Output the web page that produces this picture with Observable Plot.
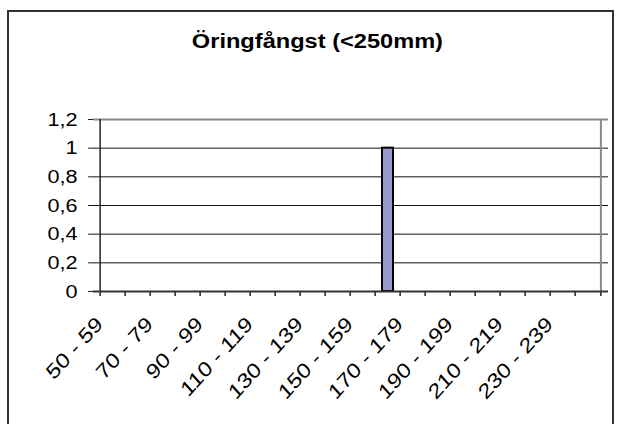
<!DOCTYPE html>
<html>
<head>
<meta charset="utf-8">
<script src="https://cdn.jsdelivr.net/npm/d3@7"></script>
<script src="https://cdn.jsdelivr.net/npm/@observablehq/plot@0.6"></script>
<style>
  html, body { margin: 0; padding: 0; background: #fff; width: 620px; height: 424px; overflow: hidden; }
  #frame { position: absolute; left: 7px; top: 10px; width: 607px; height: 440px; border: 2px solid #333; box-sizing: border-box; }
  #title { position: absolute; left: 0; top: 30px; width: 634px; text-align: center; line-height: 22px;
           font: bold 20px "Liberation Sans", Arial, sans-serif; color: #000; }
  #title span { display: inline-block; transform: scaleX(1.18); transform-origin: center; }
  #chart { position: absolute; left: 0; top: 0; }
</style>
</head>
<body>
<div id="frame"></div>
<div id="title"><span>Öringfångst (&lt;250mm)</span></div>
<div id="chart"></div>
<script>
const categories = ["50 - 59", "60 - 69", "70 - 79", "80 - 89", "90 - 99", "100 - 109", "110 - 119",
  "120 - 129", "130 - 139", "140 - 149", "150 - 159", "160 - 169", "170 - 179", "180 - 189",
  "190 - 199", "200 - 209", "210 - 219", "220 - 229", "230 - 239", "240 - 249"];
const counts = [0, 0, 0, 0, 0, 0, 0, 0, 0, 0, 0, 1, 0, 0, 0, 0, 0, 0, 0, 0];
const yTicks = [0, 0.2, 0.4, 0.6, 0.8, 1, 1.2];
const shownLabels = ["50 - 59", "70 - 79", "90 - 99", "110 - 119", "130 - 139", "150 - 159",
  "170 - 179", "190 - 199", "210 - 219", "230 - 239"];

const W = 620, H = 424;
const mL = 93, mR = 12, mT = 119, mB = 133;
const step = (W - mL - mR) / categories.length;
const data = categories.map((c, i) => ({cat: c, count: counts[i]}));
const font = '"Liberation Sans", Arial, sans-serif';

const plot = Plot.plot({
  width: W, height: H,
  marginLeft: mL, marginRight: mR, marginTop: mT, marginBottom: mB,
  style: {fontFamily: font, fontSize: "19px", color: "#000", background: "transparent", overflow: "visible"},
  x: {type: "band", domain: categories, paddingInner: 0.56, paddingOuter: 0.28, axis: null},
  y: {domain: [0, 1.2], axis: null},
  marks: [
    Plot.ruleY(yTicks.filter(t => t > 0 && t < 1.2), {stroke: "#111", strokeWidth: 1}),
    Plot.ruleY([1.2], {stroke: "#888", strokeWidth: 2}),
    Plot.ruleX([categories[categories.length - 1]], {x: d => d, dx: step / 2, y1: 0, y2: 1.2, stroke: "#888", strokeWidth: 2}),
    Plot.barY(data.filter(d => d.count > 0), {x: "cat", y: "count", fill: "#9999cc", stroke: "#000", strokeWidth: 2}),
    Plot.ruleX(categories, {x: d => d, dx: -step / 2, y1: 0, y2: 0, insetBottom: -5, stroke: "#222", strokeWidth: 1.5}),
    Plot.ruleX([categories[categories.length - 1]], {x: d => d, dx: step / 2, y1: 0, y2: 0, insetBottom: -5, stroke: "#222", strokeWidth: 1.5}),
    Plot.ruleY([0], {stroke: "#333", strokeWidth: 2}),
    Plot.ruleX([categories[0]], {x: d => d, dx: -step / 2, y1: 0, y2: 1.2, stroke: "#222", strokeWidth: 1.5}),
    Plot.axisY({ticks: yTicks, tickSize: 5, tickPadding: 11, stroke: "#222",
      tickFormat: d => String(d).replace(".", ","), label: null, fontSize: 19}),
    Plot.text(shownLabels, {x: d => d, frameAnchor: "bottom", dy: 34, dx: -9,
      textAnchor: "end", lineAnchor: "bottom", fontSize: 19, fill: "#000"})
  ]
});

// Spreadsheet-like widening of the label glyphs; the category labels are turned by 45°
const isNum = v => v != null && /^-?[\d.]+$/.test(v.trim());
for (const t of plot.querySelectorAll("text")) {
  const rotated = t.closest('g[aria-label="text"]') != null;
  const S = rotated ? 1.2 : 1.14;
  const tr = t.getAttribute("transform") || "";
  const x = t.getAttribute("x"), y = t.getAttribute("y");
  const mx = isNum(x) ? +x : 0, my = isNum(y) ? +y : 0;
  if (isNum(x)) t.removeAttribute("x");
  if (isNum(y)) t.removeAttribute("y");
  const pre = (mx || my) ? `translate(${mx},${my})` : "";
  t.setAttribute("transform", `${tr} ${pre}${rotated ? " scale(1,1.1) rotate(-45)" : ""} scale(${S},1)`);
}
document.getElementById("chart").appendChild(plot);
</script>
</body>
</html>
